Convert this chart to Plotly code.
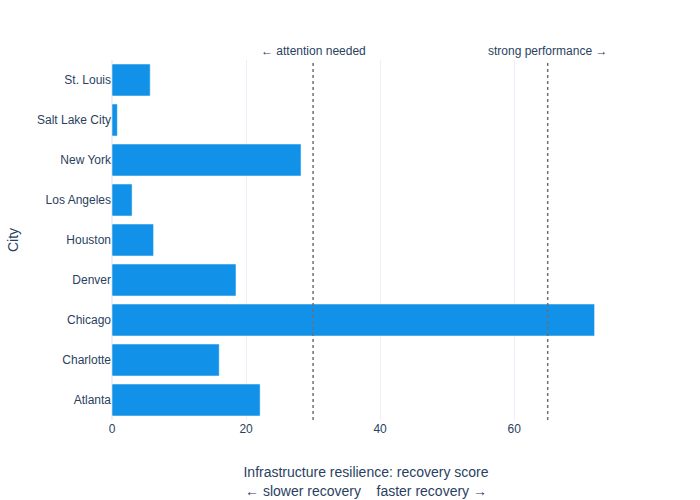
import plotly.graph_objects as go

cities = ['Atlanta', 'Charlotte', 'Chicago', 'Denver', 'Houston',
          'Los Angeles', 'New York', 'Salt Lake City', 'St. Louis']
scores = [22.1, 16.0, 72.0, 18.5, 6.2, 3.0, 28.2, 0.8, 5.7]

# reference lines
low_mark = 30
high_mark = 65

fig = go.Figure(go.Bar(
    x=scores,
    y=cities,
    orientation='h',
    marker_color='#1192e8',
))

fig.add_vline(x=low_mark, line_dash='dot', line_color='#6b6f7a', line_width=1.5,
              annotation_text='← attention needed', annotation_position='top')
fig.add_vline(x=high_mark, line_dash='dot', line_color='#6b6f7a', line_width=1.5,
              annotation_text='strong performance →', annotation_position='top')

fig.update_layout(
    template='plotly_white',
    font_family='Liberation Sans, Arial, sans-serif',
    width=700, height=500,
    margin=dict(t=60, b=80, r=80),
    showlegend=False,
    yaxis_title='City',
)
fig.update_xaxes(
    title_text='Infrastructure resilience: recovery score<br>← slower recovery    faster recovery →',
    title_standoff=32,
    automargin=False,
)

# page without the default body margin
fig.write_html("out.html", config={'displayModeBar': False},
               post_script="document.body.style.margin='0';")
